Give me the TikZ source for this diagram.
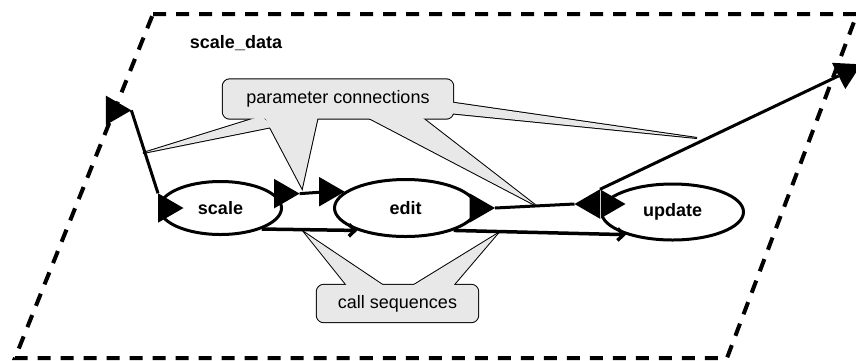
\documentclass[tikz,border=0pt]{standalone}
\usepackage{fontspec}
\setmainfont{Liberation Sans}
\usetikzlibrary{positioning, arrows.meta, shapes.geometric, calc, backgrounds}
\definecolor{notegray}{RGB}{232,232,232}
\newcommand{\diagfont}{\fontsize{18}{21}\selectfont}
\tikzset{
  module/.style={
    draw, ellipse, line width=3pt, font=\diagfont\bfseries,
    inner sep=0pt, minimum width=142pt, minimum height=56pt
  },
  % Port markers
  portmark/.style={
    regular polygon, regular polygon sides=3, fill,
    inner sep=0pt, outer sep=0pt, minimum size=34pt
  },
  % Connections
  paramline/.style={line width=3pt},
  callseq/.style={
    line width=3.5pt, -{Straight Barb[length=6pt, width=12pt]}
  },
  % Module boundary
  boundary/.style={line width=4pt, dash pattern=on 13pt off 10pt},
  % Callouts
  notetext/.style={font=\diagfont, inner sep=0pt},
  noteedge/.style={draw, line width=2pt},
  notefill/.style={fill=notegray},
}

\begin{document}
\begin{tikzpicture}[x=1pt, y=-1pt]
  \useasboundingbox (0,0) rectangle (856,360);

  %% -- Boundary --
  \coordinate (bTL) at (153,14);
  \coordinate (bTR) at (857,14);
  \coordinate (bBR) at (727,358);
  \coordinate (bBL) at (15,358);
  \draw[boundary] (bTL) -- (bTR) -- (bBR) -- (bBL) -- cycle;
  \node[font=\diagfont\bfseries] (sysname) at (236,43) {scale\_data};

  %% -- Modules --
  \node[module, minimum width=122pt, minimum height=53pt] (scale) at (220.5,208) {scale};
  \node[module, minimum height=57pt, right=50pt of scale] (edit) {edit};
  \node[module, right=122pt of edit, yshift=-4pt] (update) {update};

  %% -- Ports --
  \node[portmark, regular polygon rotate=30] (sd-in) at ($(bTL)!0.28!(bBL)$) {};
  \node[portmark, regular polygon rotate=-90, anchor=side 2] (sc-in) at (scale.west) {};
  \node[portmark, regular polygon rotate=-90, anchor=side 2] (sc-out) at (scale.15) {};
  \node[portmark, regular polygon rotate=-90, anchor=corner 1] (ed-in) at (edit.165) {};
  \node[portmark, regular polygon rotate=-90] (ed-out) at (edit.east) {};
  \node[portmark, regular polygon rotate=-90, anchor=side 2] (upd-in) at ([yshift=8pt]update.west) {};
  \node[portmark, regular polygon rotate=90, anchor=side 2] (upd-out) at ([yshift=8pt]update.west) {};
  \node[portmark, regular polygon rotate=-63, anchor=side 2] (sd-out) at ([xshift=5pt]$(bTR)!0.18!(bBR)$) {};
  \draw[gray!40, line width=0.6pt] (upd-in.corner 2) -- (upd-in.corner 3);

  %% -- Parameter connections --
  \draw[paramline] (sd-in.corner 3) -- (sc-in.corner 2);
  \draw[paramline] (sc-out.corner 1) -- (ed-in);
  \draw[paramline] (ed-out.corner 1) -- (upd-out.corner 1);
  \draw[paramline] (upd-out.corner 3) -- (sd-out.side 2);

  %% -- Call sequences --
  \draw[callseq] (scale.-27) -- (edit.-155);
  \draw[callseq] (edit.-25) -- (update.-154);

  %% -- Callouts --
  \node[notetext, minimum width=230pt, minimum height=39pt] (parnote) at (338,99) {parameter connections};
  \node[notetext, minimum width=161pt, minimum height=37pt] (callnote) at (397.5,303.5) {call sequences};
  \begin{scope}[on background layer]
    \foreach \pass in {noteedge, notefill} {
      \path[\pass, rounded corners=7pt] (parnote.north west) rectangle (parnote.south east);
      \path[\pass] (262,116) -- (143,153) -- (272,127) -- cycle;
      \path[\pass] (264,116) -- (302,188) -- (318,116) -- cycle;
      \path[\pass] (365,116) -- (535,205) -- (420,116) -- cycle;
      \path[\pass] (448,102) -- (697,138) -- (448,113) -- cycle;
      \path[\pass, rounded corners=7pt] (callnote.north west) rectangle (callnote.south east);
      \path[\pass] (349,288) -- (305,233) -- (387,288) -- cycle;
      \path[\pass] (409,288) -- (497,234) -- (451,288) -- cycle;
    }
  \end{scope}

\end{tikzpicture}
\end{document}
